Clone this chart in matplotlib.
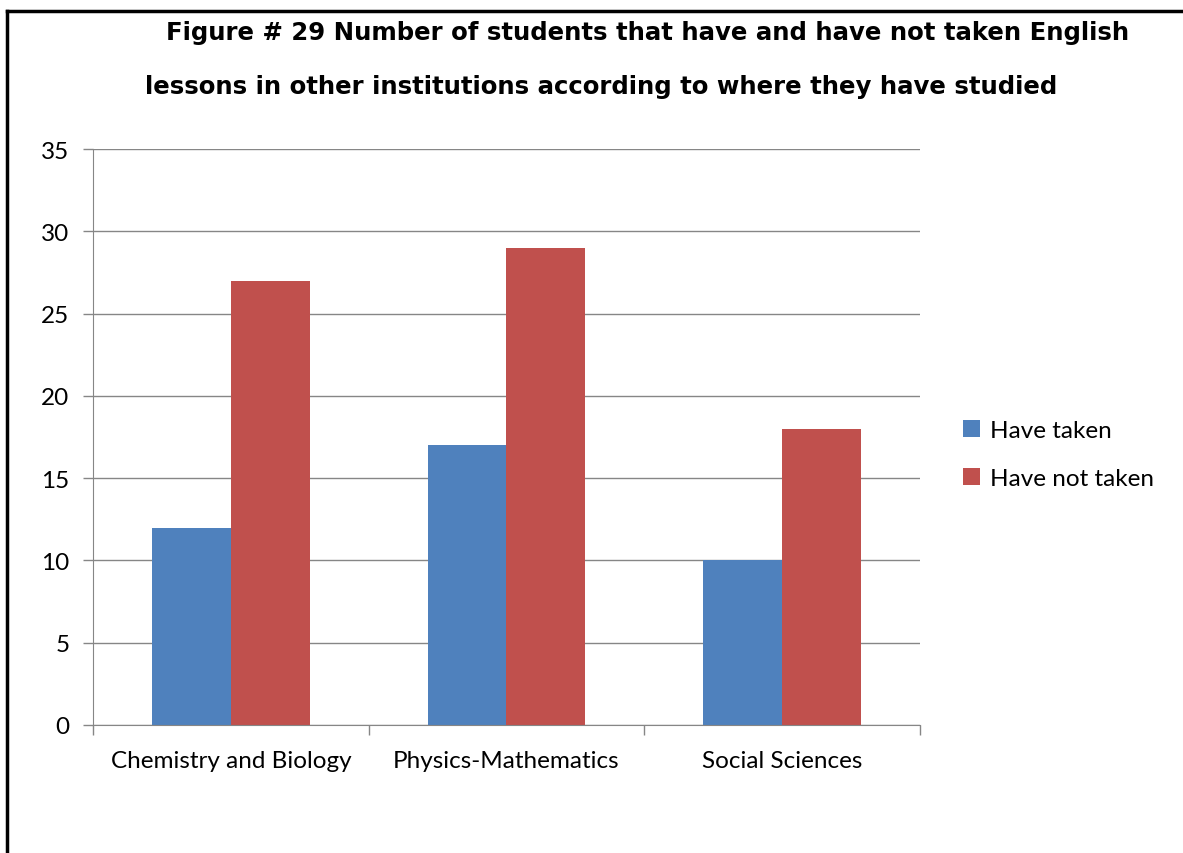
import matplotlib.pyplot as plt
import numpy as np

plt.rcParams['font.family'] = ['Lato', 'DejaVu Sans']

categories = ['Chemistry and Biology', 'Physics-Mathematics', 'Social Sciences']
have_taken = [12, 17, 10]
have_not_taken = [27, 29, 18]
series_names = ['Have taken', 'Have not taken']

blue = '#4F81BD'
red = '#C0504D'
axis_grey = '#868686'

fig = plt.figure(figsize=(11.83, 8.54), dpi=100)
ax = fig.add_axes([93/1183, 1 - 726/854, (920 - 93)/1183, (726 - 150)/854])

x = np.arange(len(categories))
w = 0.2865
ax.bar(x - w/2, have_taken, w, color=blue, label=series_names[0])
ax.bar(x + w/2, have_not_taken, w, color=red, label=series_names[1])

ax.set_xlim(-0.5, len(categories) - 0.5)
ax.set_ylim(0, 35)
ax.set_yticks(range(0, 36, 5))
ax.yaxis.grid(True, color=axis_grey, linewidth=1)
ax.set_axisbelow(True)

# categories labelled at centres, tick marks sit on the boundaries
ax.set_xticks(x)
ax.set_xticklabels(categories, fontsize=17.5)
ax.tick_params(axis='x', length=0, pad=18)
ax.set_xticks(np.arange(-0.5, len(categories)), minor=True)
ax.tick_params(axis='x', which='minor', length=7, color=axis_grey, width=1)
ax.tick_params(axis='y', length=7, color=axis_grey, width=1, labelsize=17.5, pad=10)

for side in ['top', 'right']:
    ax.spines[side].set_visible(False)
for side in ['left', 'bottom']:
    ax.spines[side].set_color(axis_grey)

ax.legend(loc='center left', bbox_to_anchor=(1.04, 0.47), frameon=False,
          fontsize=17.5, handlelength=0.7, handleheight=0.7, labelspacing=1.1,
          handletextpad=0.4, borderaxespad=0)

title_font = dict(ha='center', va='center', fontsize=17.6, fontweight='bold',
                  family=['DejaVu Sans'])
fig.text(648/1183, 1 - 33/854,
         'Figure # 29 Number of students that have and have not taken English', **title_font)
fig.text(601/1183, 1 - 87/854,
         'lessons in other institutions according to where they have studied', **title_font)

# page frame, only left and top edges fall inside the image
fig.add_artist(plt.Line2D([7/1183, 7/1183], [0, 1 - 12/854], color='black', linewidth=2.5,
                          transform=fig.transFigure))
fig.add_artist(plt.Line2D([7/1183, 1], [1 - 12/854, 1 - 12/854], color='black', linewidth=2.5,
                          transform=fig.transFigure))

fig.savefig('out.png', dpi=100)
